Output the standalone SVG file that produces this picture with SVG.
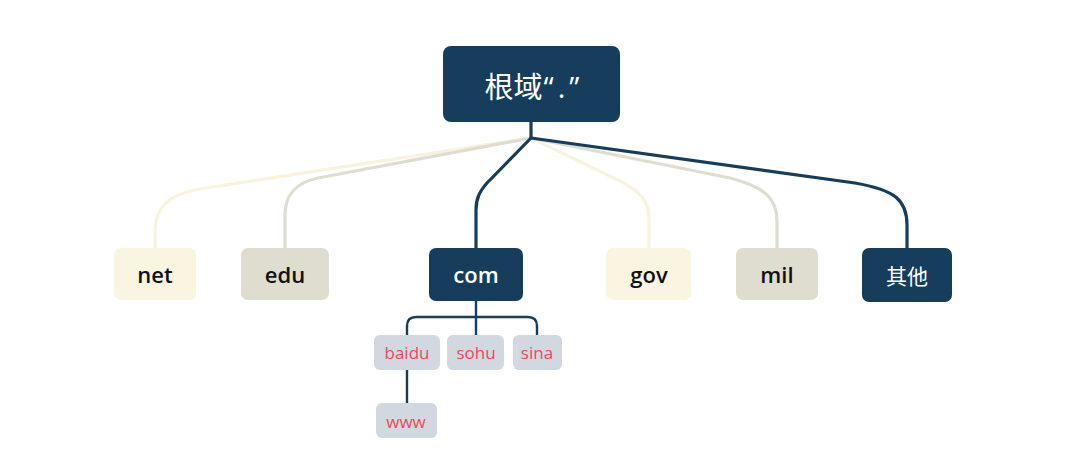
<svg xmlns="http://www.w3.org/2000/svg" width="1091" height="461" viewBox="0 0 1091 461">
<style>
.dark{fill:#173D5C}
.cream{fill:#FAF5E1}
.grey{fill:#DFDDCF}
.sub{fill:#D1D8DF}
.lbl{font-family:"Open Sans","Liberation Sans",sans-serif;font-size:22px;font-weight:600;text-anchor:middle;dominant-baseline:central}
.lblw{fill:#ffffff}
.lblb{fill:#111111}
.sublbl{font-family:"Open Sans","Liberation Sans",sans-serif;font-size:17px;fill:#F0465A;text-anchor:middle;dominant-baseline:central}
.c{fill:none;stroke-width:3.2;stroke-linecap:round;stroke-linejoin:round}
.cd{stroke:#173D5C}
.cc{stroke:#F8F3DD}
.cg{stroke:#DFDDCF}
.cs{fill:none;stroke:#173D5C;stroke-width:2.4}
</style>
<rect width="1091" height="461" fill="#ffffff"/>
<g id="connectors">
<path class="c cc" d="M531,138 L200,189 C165,195 155,210 155,232 L155,248"/>
<path class="c cg" d="M531,138 L318,178 C295,183 285,195 285,215 L285,248"/>
<path class="c cc" d="M531,138 L618,180 C640,191 649,200 649,220 L649,248"/>
<path class="c cg" d="M531,138 L730,178 C760,186 777,195 777,222 L777,248"/>
<path class="c cd" d="M531,122 L531,138"/>
<path class="c cd" d="M531,138 L487,183 C480,191 476,198 476,210 L476,248"/>
<path class="c cd" d="M531,138 L855,183 C895,190 907,200 907,225 L907,248"/>
<path class="cs" d="M476,301 L476,335"/>
<path class="cs" d="M407,335 L407,326 Q407,317 416,317 L528,317 Q537,317 537,326 L537,335"/>
<path class="cs" d="M407,370 L407,403"/>
</g>
<g id="root">
<rect class="dark" x="443" y="46" width="177" height="76" rx="8"/>
<text x="532" y="86" font-family="'Open Sans','Noto Sans CJK SC',sans-serif" font-size="29" fill="#ffffff" text-anchor="middle" dominant-baseline="central">根域<tspan dx="1">“</tspan><tspan dx="4">.</tspan><tspan dx="4">”</tspan></text>
</g>
<g id="net">
<rect class="cream" x="114" y="248" width="82" height="52" rx="7"/>
<text class="lbl lblb" x="155" y="274">net</text>
</g>
<g id="edu">
<rect class="grey" x="241" y="248" width="88" height="52" rx="7"/>
<text class="lbl lblb" x="285" y="274">edu</text>
</g>
<g id="com">
<rect class="dark" x="429" y="248" width="94" height="53" rx="7"/>
<text class="lbl lblw" x="476" y="274">com</text>
</g>
<g id="gov">
<rect class="cream" x="606" y="248" width="85" height="52" rx="7"/>
<text class="lbl lblb" x="649" y="274">gov</text>
</g>
<g id="mil">
<rect class="grey" x="736" y="248" width="82" height="52" rx="7"/>
<text class="lbl lblb" x="777" y="274">mil</text>
</g>
<g id="other">
<rect class="dark" x="862" y="248" width="90" height="54" rx="7"/>
<text x="907" y="275" font-family="'Noto Sans CJK SC','Noto Sans',sans-serif" font-size="21" fill="#ffffff" text-anchor="middle" dominant-baseline="central">其他</text>
</g>
<g id="baidu">
<rect class="sub" x="374" y="335" width="66" height="35" rx="6"/>
<text class="sublbl" x="407" y="352">baidu</text>
</g>
<g id="sohu">
<rect class="sub" x="447" y="335" width="57" height="35" rx="6"/>
<text class="sublbl" x="476" y="352">sohu</text>
</g>
<g id="sina">
<rect class="sub" x="513" y="335" width="49" height="35" rx="6"/>
<text class="sublbl" x="537" y="352">sina</text>
</g>
<g id="www">
<rect class="sub" x="376" y="403" width="61" height="35" rx="6"/>
<text class="sublbl" x="406" y="421">www</text>
</g>
</svg>
